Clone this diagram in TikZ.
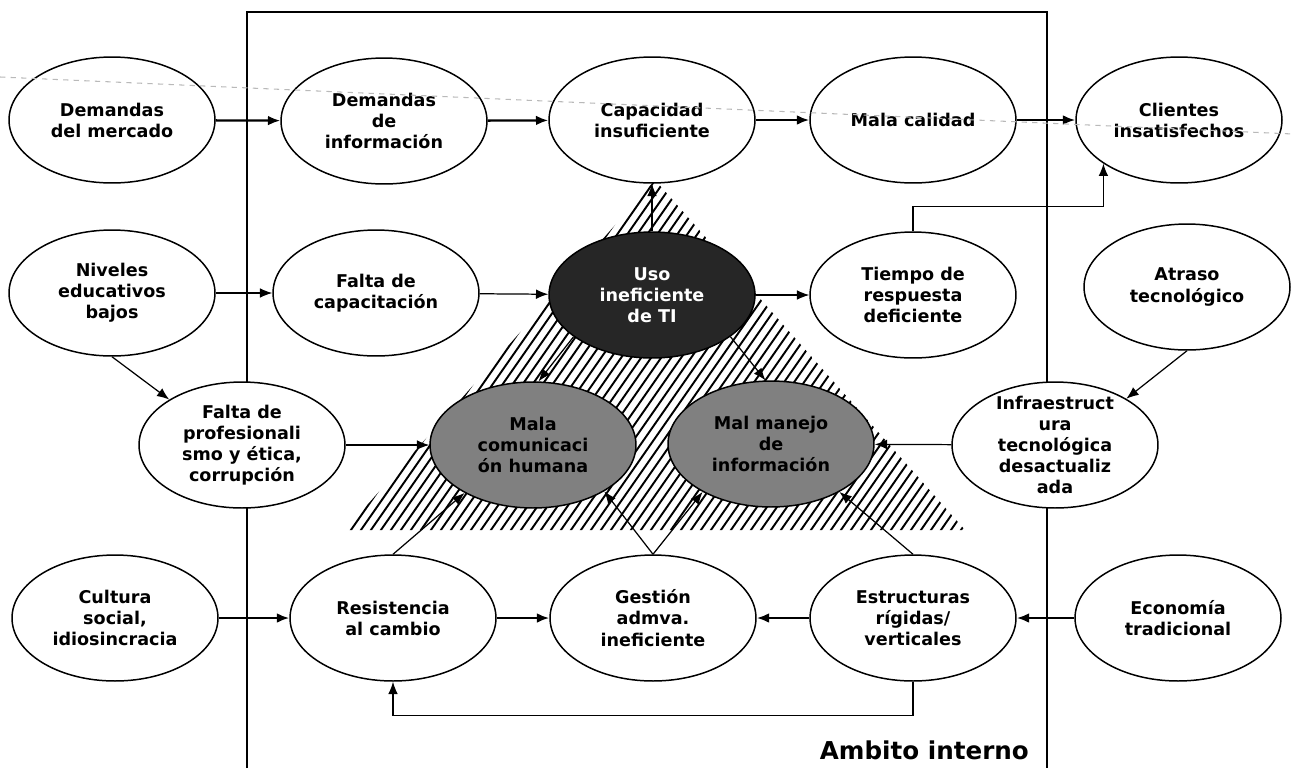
\documentclass[tikz,border=0pt]{standalone}
\usepackage{fontspec}
\setmainfont{DejaVu Sans}
\usetikzlibrary{shapes.geometric,arrows.meta}
\tikzset{
    cell/.style = {
        ellipse,
        draw,
        line width     = 0.85pt,
        fill           = white,
        minimum width  = 4.12cm,
        minimum height = 2.52cm,
        inner sep      = 0pt,
        align          = center,
        font           = \bfseries\fontsize{10}{12}\selectfont,
    },
    darkcell/.style = {cell, fill=black!85, text=white},
    greycell/.style = {cell, fill=black!50},
    link/.style     = {line width=0.7pt},
    mainlink/.style = {line width=1.3pt},
}

\begin{document}
\begin{tikzpicture}[x=0.02cm, y=-0.02cm, >={Latex[length=7pt,width=5.5pt]}]
  % pixel grid of the scan, y grows downwards
  \path[use as bounding box] (0,0) rectangle (1293,768);

  % the inner frame
  \draw[line width=0.8pt] (247,768) -- (247,12) -- (1047,12) -- (1047,768);
  \node[anchor=east, font=\bfseries\fontsize{14}{16}\selectfont] (ambito) at (1035,750) {Ambito interno};

  % hatched triangle behind the centre
  \begin{scope}
    \clip (655,180) -- (345,530) -- (965,530) -- cycle;
    \foreach \x in {80,90,...,950}
      \draw[line width=1.1pt] (\x,560) -- ++(300,-430);
  \end{scope}

  \node[cell] (mercado)  at (112,120)  {Demandas\\del mercado};
  \node[cell] (info)     at (384,121)  {Demandas\\de\\información};
  \node[cell] (capac)    at (652,120)  {Capacidad\\insuficiente};
  \node[cell] (mala)     at (913,120)  {Mala calidad};
  \node[cell] (clientes) at (1179,120) {Clientes\\insatisfechos};

  \node[cell]     (niveles) at (112,293)  {Niveles\\educativos\\bajos};
  \node[cell]     (capacit) at (376,293)  {Falta de\\capacitación};
  \node[darkcell] (uso)     at (652,295)  {Uso\\ineficiente\\de TI};
  \node[cell]     (tiempo)  at (913,295)  {Tiempo de\\respuesta\\deficiente};
  \node[cell]     (atraso)  at (1187,287) {Atraso\\tecnológico};

  \node[cell]     (prof)   at (242,445)  {Falta de\\profesionali\\smo y ética,\\corrupción};
  \node[greycell] (comun)  at (533,445)  {Mala\\comunicaci\\ón humana};
  \node[greycell] (manejo) at (771,444)  {Mal manejo\\de\\información};
  \node[cell, inner ysep=-6pt] (infra) at (1055,445) {Infraestruct\\ura\\tecnológica\\desactualiz\\ada};

  \node[cell] (cultura)  at (115,618)  {Cultura\\social,\\idiosincracia};
  \node[cell] (resist)   at (393,618)  {Resistencia\\al cambio};
  \node[cell] (gestion)  at (653,618)  {Gestión\\admva.\\ineficiente};
  \node[cell] (estruct)  at (913,618)  {Estructuras\\rígidas/\\verticales};
  \node[cell] (economia) at (1178,618) {Economía\\tradicional};

  \draw[->, mainlink] (mercado) -- (info);
  \draw[->, mainlink] (info) -- (capac);
  \draw[->, mainlink] (capac) -- (mala);
  \draw[->, mainlink] (mala) -- (clientes);

  \draw[->, link] (uso.north) -- (capac.south);
  \draw[->, link] (niveles) -- (capacit);
  \draw[->, link] (capacit) -- (uso);
  \draw[->, link] (uso) -- (tiempo);
  \draw[->, link] (tiempo.north) -- ++(0,-25) -| (clientes.210);

  \draw[->, link] (niveles.south) -- (prof.148);
  \draw[->, link] (atraso.south) -- (infra.33);
  \draw[->, link] (prof) -- (comun);
  \draw[->, link] (infra) -- (manejo);
  \draw[->, link] (uso.208) -- (comun.85);
  \draw[->, link] (uso.-28) -- (manejo.95);

  \draw[->, link] (resist.north) -- (comun.215);
  \draw[->, link] (gestion.north) -- (comun.-33);
  \draw[->, link] (gestion.north) -- (manejo.215);
  \draw[->, link] (estruct.north) -- (manejo.-35);

  \draw[->, mainlink] (cultura) -- (resist);
  \draw[->, mainlink] (resist) -- (gestion);
  \draw[->, mainlink] (estruct) -- (gestion);
  \draw[->, mainlink] (economia) -- (estruct);
  \draw[->, link] (estruct.south) -- ++(0,34) -| (resist.south);

  % faint scan line over the top row
  \draw[gray!55, dashed, line width=0.6pt] (0,77) -- (1293,134);
\end{tikzpicture}
\end{document}
